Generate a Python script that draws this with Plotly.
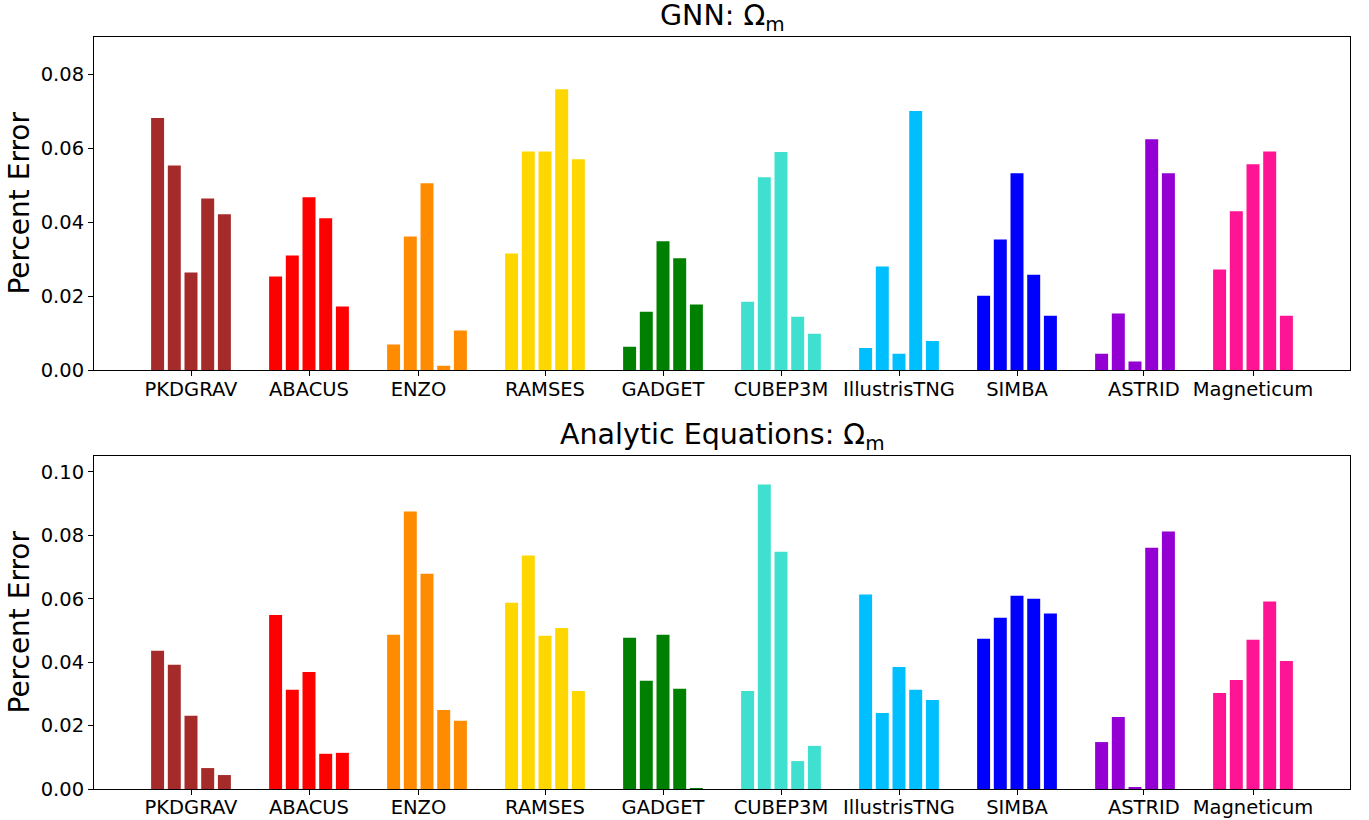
import plotly.graph_objects as go
from plotly.subplots import make_subplots

# Simulation suites and their bar colours
simulations = ["PKDGRAV", "ABACUS", "ENZO", "RAMSES", "GADGET",
               "CUBEP3M", "IllustrisTNG", "SIMBA", "ASTRID", "Magneticum"]
colors = ["brown", "red", "darkorange", "gold", "green",
          "turquoise", "deepskyblue", "blue", "darkviolet", "deeppink"]

# Percent error on Omega_m, five runs per simulation suite
gnn_errors = [
    [0.0681, 0.0553, 0.0264, 0.0464, 0.0421],
    [0.0253, 0.0310, 0.0467, 0.0410, 0.0172],
    [0.0069, 0.0361, 0.0505, 0.0012, 0.0107],
    [0.0315, 0.0591, 0.0591, 0.0759, 0.0570],
    [0.0063, 0.0158, 0.0348, 0.0302, 0.0177],
    [0.0185, 0.0521, 0.0589, 0.0144, 0.0098],
    [0.0060, 0.0280, 0.0044, 0.0700, 0.0079],
    [0.0201, 0.0353, 0.0532, 0.0258, 0.0147],
    [0.0044, 0.0153, 0.0023, 0.0624, 0.0532],
    [0.0272, 0.0429, 0.0556, 0.0591, 0.0147],
]
analytic_errors = [
    [0.0436, 0.0392, 0.0231, 0.0066, 0.0044],
    [0.0549, 0.0313, 0.0369, 0.0111, 0.0114],
    [0.0486, 0.0875, 0.0679, 0.0249, 0.0215],
    [0.0587, 0.0736, 0.0483, 0.0508, 0.0309],
    [0.0477, 0.0341, 0.0486, 0.0316, 0.0003],
    [0.0309, 0.0960, 0.0748, 0.0088, 0.0136],
    [0.0613, 0.0240, 0.0385, 0.0313, 0.0281],
    [0.0474, 0.0540, 0.0609, 0.0600, 0.0553],
    [0.0148, 0.0227, 0.0006, 0.0761, 0.0812],
    [0.0303, 0.0344, 0.0471, 0.0591, 0.0404],
]

panel_titles = ["GNN: Ω<sub>m</sub>", "Analytic Equations: Ω<sub>m</sub>"]
y_ranges = [[0, 0.09], [0, 0.105]]

# bar layout within each group
BAR_STEP = 0.1415
BAR_WIDTH = 0.11
# a couple of category labels sit slightly off their group centre
label_shift = {"ENZO": -0.072, "ASTRID": 0.075}

FONT = "DejaVu Sans"

fig = make_subplots(rows=2, cols=1, vertical_spacing=0.0)

for row, errors in enumerate([gnn_errors, analytic_errors], start=1):
    for i, (name, color, vals) in enumerate(zip(simulations, colors, errors)):
        xs = [i + (j - 2) * BAR_STEP for j in range(len(vals))]
        fig.add_trace(
            go.Bar(x=xs, y=vals, width=BAR_WIDTH, marker=dict(color=color, line=dict(width=0)),
                   name=name, showlegend=False),
            row=row, col=1,
        )

tickvals = [i + label_shift.get(s, 0.0) for i, s in enumerate(simulations)]

axis_common = dict(
    showline=True, linecolor="black", linewidth=1, mirror=True,
    ticks="outside", ticklen=5, tickwidth=1, tickcolor="black",
    showgrid=False, zeroline=False, automargin=False,
    tickfont=dict(family=FONT, size=19.5, color="black"),
)

domains = [[0.557, 1.0], [0.0, 0.4428]]
for row in (1, 2):
    fig.update_xaxes(range=[-0.822, 9.822], tickvals=tickvals, ticktext=simulations,
                     ticklabelstandoff=-4, **axis_common, row=row, col=1)
    fig.update_yaxes(range=y_ranges[row - 1], dtick=0.02, tickformat=".2f",
                     domain=domains[row - 1], **axis_common, row=row, col=1)

annotations = []
for k, (title, dom) in enumerate(zip(panel_titles, domains)):
    annotations.append(dict(
        text=title, xref="paper", yref="paper", x=0.5, y=dom[1],
        xanchor="center", yanchor="bottom", yshift=-1, showarrow=False,
        font=dict(family=FONT, size=28.5, color="black"),
    ))
    annotations.append(dict(
        text="Percent Error", xref="paper", yref="paper", x=0, y=(dom[0] + dom[1]) / 2,
        xanchor="center", yanchor="middle", xshift=-74, textangle=-90, showarrow=False,
        font=dict(family=FONT, size=28, color="black"),
    ))

fig.update_layout(
    width=1369, height=820,
    margin=dict(l=94, r=19, t=37, b=31),
    plot_bgcolor="white", paper_bgcolor="white",
    barmode="overlay",
    annotations=annotations,
    font=dict(family=FONT, color="black"),
)

fig.write_html("out.html")
